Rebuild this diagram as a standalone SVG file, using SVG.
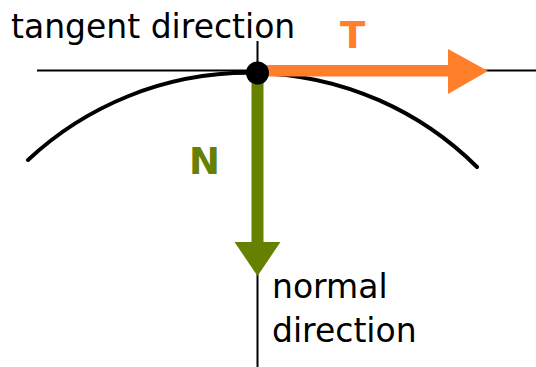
<svg xmlns="http://www.w3.org/2000/svg" width="536" height="367" viewBox="0 0 536 367">
<style>
.ax{stroke:#000;stroke-width:2;fill:none}
.lbl{font-family:"DejaVu Sans",sans-serif;font-size:33px;fill:#000}
.big{font-family:"DejaVu Sans",sans-serif;font-size:37px;font-weight:bold}
</style>
<rect width="536" height="367" fill="#fff"/>
<g id="connectors">
<line class="ax" x1="37" y1="70.5" x2="536" y2="70.5"/>
<line class="ax" x1="257.5" y1="41" x2="257.5" y2="367"/>
<path d="M28,160 A323.5,323.5 0 0 1 477,167" fill="none" stroke="#000" stroke-width="4" stroke-linecap="round"/>
</g>
<g id="tangent">
<rect x="257.5" y="65" width="192" height="11.5" fill="#ff7f2a"/>
<polygon points="448,49 488,71 448,94" fill="#ff7f2a"/>
<text class="big" x="340" y="48" fill="#ff7f2a">T</text>
</g>
<g id="normal">
<rect x="251.5" y="73" width="12" height="172" fill="#668000"/>
<polygon points="234.5,242 280.5,242 257.5,276" fill="#668000"/>
<text class="big" x="189" y="174" fill="#668000">N</text>
</g>
<g id="point">
<circle cx="257.5" cy="73" r="11.5" fill="#000"/>
</g>
<g id="labels">
<text class="lbl" x="11" y="38">tangent direction</text>
<text class="lbl" x="272" y="298">normal</text>
<text class="lbl" x="272" y="342">direction</text>
</g>
</svg>
